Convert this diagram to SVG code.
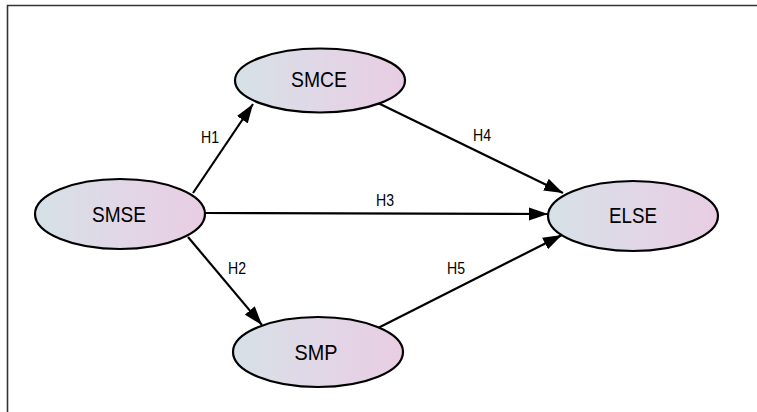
<svg xmlns="http://www.w3.org/2000/svg" width="757" height="412" viewBox="0 0 757 412">
  <defs>
    <linearGradient id="nodeFill" x1="0" y1="0" x2="1" y2="0">
      <stop offset="0" stop-color="#d6e1e7"/>
      <stop offset="0.55" stop-color="#e2d6e6"/>
      <stop offset="1" stop-color="#e8cde3"/>
    </linearGradient>
    <marker id="arrow" markerUnits="userSpaceOnUse" markerWidth="20" markerHeight="14" refX="19" refY="7" orient="auto">
      <path d="M0,0.5 L19,7 L0,13.5 z" fill="#000"/>
    </marker>
    <style>
      .node ellipse { fill: url(#nodeFill); stroke: #000; stroke-width: 2.2; }
      .node text { font-family: "Liberation Sans", Arial, sans-serif; font-size: 22px; fill: #000; text-anchor: middle; dominant-baseline: central; }
      .edge { stroke: #000; stroke-width: 2.2; fill: none; marker-end: url(#arrow); }
      .elabel { font-family: "Liberation Sans", Arial, sans-serif; font-size: 16px; fill: #000; text-anchor: middle; dominant-baseline: central; }
      .frame { stroke: #333; stroke-width: 1.6; fill: none; }
    </style>
  </defs>
  <rect x="0" y="0" width="757" height="412" fill="#fff"/>
  <path class="frame" d="M7.5,412 L7.5,5.5 L757,5.5"/>

  <g id="connectors">
    <line class="edge" x1="193" y1="193" x2="253" y2="104"/>
    <line class="edge" x1="378" y1="103" x2="563" y2="193"/>
    <line class="edge" x1="205" y1="213" x2="548" y2="214"/>
    <line class="edge" x1="188" y1="237" x2="262" y2="325"/>
    <line class="edge" x1="378" y1="328" x2="562" y2="235"/>
    <text class="elabel" x="210" y="137" textLength="18" lengthAdjust="spacingAndGlyphs">H1</text>
    <text class="elabel" x="482" y="135" textLength="18" lengthAdjust="spacingAndGlyphs">H4</text>
    <text class="elabel" x="385" y="200" textLength="18" lengthAdjust="spacingAndGlyphs">H3</text>
    <text class="elabel" x="237" y="268" textLength="18" lengthAdjust="spacingAndGlyphs">H2</text>
    <text class="elabel" x="456" y="268" textLength="18" lengthAdjust="spacingAndGlyphs">H5</text>
  </g>

  <g id="SMSE" class="node">
    <ellipse cx="120" cy="214" rx="85" ry="35"/>
    <text x="119" y="214" textLength="54" lengthAdjust="spacingAndGlyphs">SMSE</text>
  </g>
  <g id="SMCE" class="node">
    <ellipse cx="320" cy="80.5" rx="85" ry="32"/>
    <text x="319" y="79" textLength="56" lengthAdjust="spacingAndGlyphs">SMCE</text>
  </g>
  <g id="ELSE" class="node">
    <ellipse cx="633" cy="216" rx="85" ry="35"/>
    <text x="633" y="215" textLength="48" lengthAdjust="spacingAndGlyphs">ELSE</text>
  </g>
  <g id="SMP" class="node">
    <ellipse cx="318" cy="352" rx="85" ry="35"/>
    <text x="316" y="352" textLength="43" lengthAdjust="spacingAndGlyphs">SMP</text>
  </g>
</svg>
